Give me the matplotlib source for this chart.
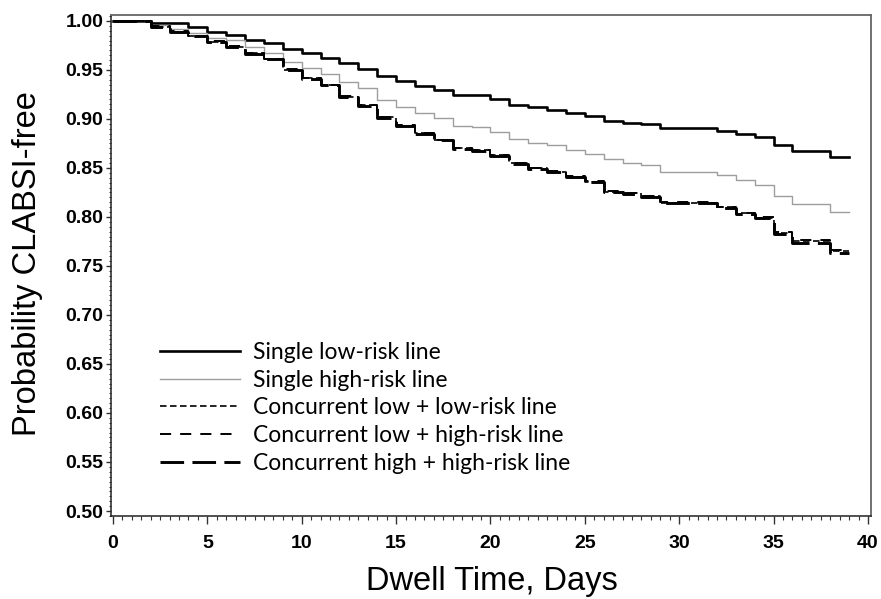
import matplotlib
matplotlib.use("Agg")
import matplotlib.pyplot as plt
from matplotlib.ticker import MultipleLocator, FormatStrFormatter

plt.rcParams['lines.scale_dashes'] = False

# ---- data (Kaplan-Meier step values, value holds from day d to d+1) ----
days = list(range(40))

single_low = [1.000, 1.000, 0.9977, 0.9977, 0.9942, 0.989, 0.9857, 0.981, 0.978, 0.971,
              0.967, 0.962, 0.957, 0.951, 0.944, 0.939, 0.934, 0.930, 0.924, 0.924,
              0.920, 0.914, 0.912, 0.909, 0.906, 0.903, 0.898, 0.896, 0.895, 0.891,
              0.891, 0.891, 0.888, 0.885, 0.882, 0.873, 0.867, 0.867, 0.861, 0.861]

single_high = [1.000, 1.000, 0.9959, 0.9915, 0.9874, 0.9823, 0.9806, 0.9738, 0.9677, 0.9585,
               0.9517, 0.9459, 0.9381, 0.9313, 0.9194, 0.9119, 0.9058, 0.9007, 0.8929, 0.892,
               0.887, 0.880, 0.876, 0.873, 0.868, 0.864, 0.859, 0.855, 0.853, 0.846,
               0.846, 0.846, 0.843, 0.838, 0.833, 0.821, 0.813, 0.813, 0.805, 0.805]

conc_low_low = [1.000, 1.000, 0.9942, 0.989, 0.9847, 0.979, 0.9738, 0.967, 0.961, 0.950,
                0.9415, 0.9347, 0.9228, 0.914, 0.9017, 0.893, 0.8854, 0.8786, 0.870, 0.868,
                0.863, 0.8548, 0.8497, 0.8463, 0.841, 0.836, 0.826, 0.824, 0.821, 0.8146,
                0.8146, 0.8146, 0.810, 0.8037, 0.799, 0.784, 0.775, 0.775, 0.765, 0.765]

conc_low_high = [1.000, 1.000, 0.9945, 0.9893, 0.9850, 0.9795, 0.9740, 0.9672, 0.9612, 0.9505,
                 0.9420, 0.9350, 0.9232, 0.9145, 0.9020, 0.8935, 0.8858, 0.8790, 0.8705, 0.8685,
                 0.8635, 0.8552, 0.8502, 0.8467, 0.8415, 0.8365, 0.8265, 0.8245, 0.8215, 0.8150,
                 0.8150, 0.8150, 0.8105, 0.8042, 0.7995, 0.785, 0.777, 0.777, 0.766, 0.766]

conc_high_high = [1.000, 1.000, 0.9940, 0.9887, 0.9844, 0.9787, 0.9735, 0.9667, 0.9607, 0.9497,
                  0.9412, 0.9344, 0.9225, 0.9137, 0.9014, 0.8927, 0.8851, 0.8783, 0.8697, 0.8677,
                  0.8627, 0.8545, 0.8494, 0.8460, 0.8407, 0.8357, 0.8257, 0.8237, 0.8207, 0.8142,
                  0.8142, 0.8142, 0.8096, 0.8033, 0.7985, 0.783, 0.773, 0.773, 0.763, 0.763]

labels = ["Single low-risk line",
          "Single high-risk line",
          "Concurrent low + low-risk line",
          "Concurrent low + high-risk line",
          "Concurrent high + high-risk line"]

xticks = [0, 5, 10, 15, 20, 25, 30, 35, 40]
yticks = [0.50, 0.55, 0.60, 0.65, 0.70, 0.75, 0.80, 0.85, 0.90, 0.95, 1.00]

# ---- figure ----
W, H = 881, 599
fig = plt.figure(figsize=(W / 100, H / 100), dpi=100)
ax = fig.add_axes([111 / W, 1 - 516 / H, (871 - 111) / W, (516 - 15) / H])

ax.plot(days, single_low, drawstyle='steps-post', color='black', lw=1.9, label=labels[0])
ax.plot(days, single_high, drawstyle='steps-post', color='#9e9e9e', lw=1.0, label=labels[1])
ax.plot(days, conc_low_low, drawstyle='steps-post', color='black', lw=1.2,
        dashes=(4.7, 2.5), label=labels[2])
ax.plot(days, conc_low_high, drawstyle='steps-post', color='black', lw=1.4,
        dashes=(8, 6.5), label=labels[3])
ax.plot(days, conc_high_high, drawstyle='steps-post', color='black', lw=2.1,
        dashes=(17, 6), label=labels[4])

ax.set_xlim(-0.106, 40.16)
ax.set_ylim(0.4949, 1.0061)

ax.set_xticks(xticks)
ax.set_yticks(yticks)
ax.xaxis.set_minor_locator(MultipleLocator(0.5))
ax.yaxis.set_minor_locator(MultipleLocator(0.005))
ax.yaxis.set_major_formatter(FormatStrFormatter('%.2f'))

for lab in ax.get_xticklabels() + ax.get_yticklabels():
    lab.set_fontfamily('Liberation Sans')
    lab.set_fontweight('bold')
    lab.set_fontsize(14)

ax.tick_params(axis='x', which='major', direction='out', length=6, width=1.0, pad=7.5, color='#333333')
ax.tick_params(axis='x', which='minor', direction='out', length=3, width=0.8, color='#333333')
ax.tick_params(axis='y', which='major', direction='out', length=3.5, width=1.0, pad=2, color='#333333')
ax.tick_params(axis='y', which='minor', direction='out', length=1.8, width=0.7, color='#333333')

for side in ['left', 'bottom']:
    ax.spines[side].set_color('#222222')
    ax.spines[side].set_linewidth(1.1)
for side in ['top', 'right']:
    ax.spines[side].set_color('#666666')
    ax.spines[side].set_linewidth(1.3)

fig.text(28 / W, 1 - 264 / H, "Probability CLABSI-free", rotation=90,
         ha='center', va='center', fontsize=23.5, family='Liberation Sans')
fig.text(492 / W, 1 - 590 / H, "Dwell Time, Days", ha='center', va='baseline',
         fontsize=23.5, family='Liberation Sans')

leg = ax.legend(loc='upper left', bbox_to_anchor=(160 / W, 1 - 342 / H),
                bbox_transform=fig.transFigure, frameon=False,
                prop=dict(family='Lato', size=16.5), handlelength=3.5,
                handletextpad=0.55, labelspacing=0.29, borderpad=0, borderaxespad=0)

fig.savefig('out.png', dpi=100)
